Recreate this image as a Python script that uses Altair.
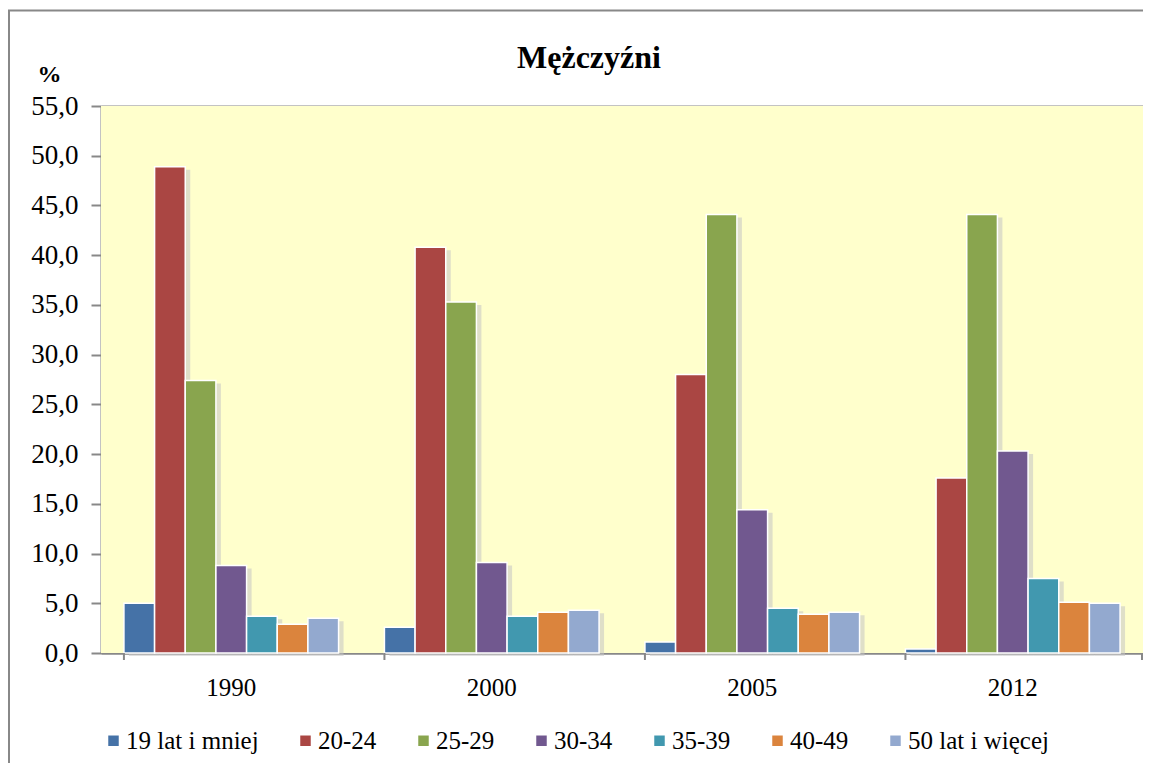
import altair as alt
import pandas as pd

years = ["1990", "2000", "2005", "2012"]
groups = ["19 lat i mniej", "20-24", "25-29", "30-34", "35-39", "40-49", "50 lat i więcej"]
v19 = [5.0, 2.6, 1.1, 0.4]
v20 = [48.9, 40.8, 28.0, 17.6]
v25 = [27.4, 35.3, 44.1, 44.1]
v30 = [8.8, 9.1, 14.4, 20.3]
v35 = [3.7, 3.7, 4.5, 7.5]
v40 = [2.9, 4.1, 3.9, 5.1]
v50 = [3.5, 4.3, 4.1, 5.0]
series = [v19, v20, v25, v30, v35, v40, v50]
colors = ["#4572A7", "#AA4643", "#89A54E", "#71588F", "#4198AF", "#DB843D", "#93A9CF"]
y_ticks = [0, 5, 10, 15, 20, 25, 30, 35, 40, 45, 50, 55]

rows = []
for g, vals in zip(groups, series):
    for yr, v in zip(years, vals):
        rows.append({"rok": yr, "grupa": g, "wartosc": v})
df = pd.DataFrame(rows)
df_years = pd.DataFrame({"rok": years})
one = pd.DataFrame({"k": [0]})

W, H = 1042, 547
FONT = "Liberation Serif, Times New Roman, Times, serif"
GRAY = "#888888"
P_IN, P_OUT = 0.176, 0.088
STEP = W / (len(years) - P_IN + 2 * P_OUT)
BAND = STEP * (1 - P_IN)
SH = 5  # shadow shift in px

x_axis = alt.Axis(title=None, labelAngle=0, ticks=False, domain=True,
                  domainColor=GRAY, domainWidth=2, labelFontSize=25,
                  labelPadding=22, labelColor="black", labelFont=FONT, grid=False)
x_scale = alt.Scale(paddingInner=P_IN, paddingOuter=P_OUT)
y_axis = alt.Axis(values=y_ticks, title="%", titleAngle=0,
                  titleX=-52, titleY=-25, titleAlign="center",
                  titleBaseline="alphabetic", titleFontWeight="bold",
                  titleFontSize=24, titleFont=FONT, titleColor="black",
                  labelExpr="replace(format(datum.value, '.1f'), '.', ',')",
                  labelFontSize=27, labelFont=FONT, labelColor="black",
                  labelPadding=13, tickSize=10, tickColor=GRAY, tickWidth=2,
                  domainColor=GRAY, domainWidth=2,
                  grid=True, gridColor=GRAY, gridWidth=2)

plot_bg = alt.Chart(one).mark_rect(color="#FFFFCC").encode(
    x=alt.value(0), x2=alt.value(W), y=alt.value(0), y2=alt.value(H)
)

shadow = alt.Chart(df).mark_bar(color="#c4c4c4", opacity=0.55).encode(
    x=alt.X("rok:N", sort=years, scale=x_scale, axis=x_axis),
    xOffset=alt.XOffset("grupa:N", sort=groups,
                        scale=alt.Scale(paddingInner=0, paddingOuter=0,
                                        range=[SH, BAND + SH])),
    y=alt.Y("wartosc:Q", scale=alt.Scale(domain=[0, 55], nice=False,
                                         range=[H + 3, 3]), axis=None),
)

bars = alt.Chart(df).mark_bar(stroke="white", strokeWidth=1.5).encode(
    x=alt.X("rok:N", sort=years, scale=x_scale, axis=x_axis),
    xOffset=alt.XOffset("grupa:N", sort=groups,
                        scale=alt.Scale(paddingInner=0, paddingOuter=0)),
    y=alt.Y("wartosc:Q", scale=alt.Scale(domain=[0, 55], nice=False), axis=y_axis),
    color=alt.Color("grupa:N", sort=groups,
                    scale=alt.Scale(domain=groups, range=colors),
                    legend=alt.Legend(title=None, orient="none", legendX=0, legendY=622,
                                      direction="horizontal", columns=7, columnPadding=34,
                                      symbolType="square", symbolSize=110,
                                      symbolStrokeWidth=0, symbolOpacity=1,
                                      labelFontSize=25, labelFont=FONT, labelColor="black",
                                      labelOffset=0, padding=0)),
)

xticks = alt.Chart(df_years).mark_rule(color=GRAY, strokeWidth=2).encode(
    x=alt.X("rok:N", sort=years, bandPosition=0, scale=x_scale, axis=x_axis),
    y=alt.value(H),
    y2=alt.value(H + 7),
)
last_tick = alt.Chart(one).mark_rule(color=GRAY, strokeWidth=2).encode(
    x=alt.value(W - 1), y=alt.value(H), y2=alt.value(H + 7)
)

border_left = alt.Chart(one).mark_rule(color=GRAY, strokeWidth=2).encode(
    x=alt.value(-92), y=alt.value(-95.5), y2=alt.value(H + 300)
)
border_top = alt.Chart(one).mark_rule(color=GRAY, strokeWidth=2).encode(
    x=alt.value(-93), x2=alt.value(W + 100), y=alt.value(-95.5)
)

title = alt.Chart(one).mark_text(font=FONT, fontSize=32, fontWeight="bold",
                                 align="center", baseline="alphabetic",
                                 color="black").encode(
    x=alt.value(589 - 101), y=alt.value(68 - 106), text=alt.value("Mężczyźni")
)

chart = alt.layer(plot_bg, shadow, bars, xticks, last_tick, border_left, border_top, title).resolve_scale(
    xOffset="independent", y="independent"
).properties(
    width=W, height=H,
    autosize=alt.AutoSizeParams(type="none"),
    padding={"left": 93, "top": 98, "right": 0, "bottom": 110},
    background="white",
).configure(font=FONT).configure_view(stroke="transparent", strokeWidth=0)

chart.save("out.html", embed_options={"renderer": "svg", "actions": False})
